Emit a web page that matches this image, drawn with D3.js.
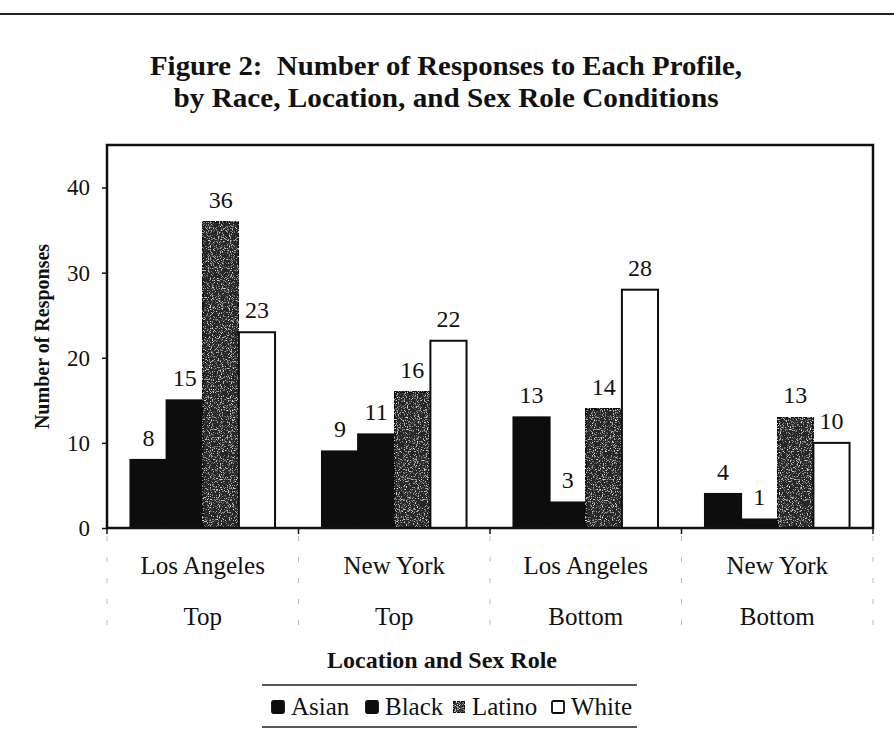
<!DOCTYPE html>
<meta charset="utf-8">
<style>
    body {
        margin: 0;
        padding: 0;
        background: #fff;
    }
    svg text {
        font-family: "Liberation Serif", "Times New Roman", serif;
        fill: #111;
    }
    .title {
        font-size: 28px;
        font-weight: bold;
        white-space: pre;
    }
    .axis text {
        font-size: 23px;
    }
    .axis line {
        stroke: #111;
        stroke-width: 1.5;
    }
    .axis .domain {
        display: none;
    }
    .vlabel {
        font-size: 24px;
    }
    .cat {
        font-size: 25px;
    }
    .axis-title {
        font-size: 24px;
        font-weight: bold;
    }
    .ytitle {
        font-size: 20px;
        font-weight: bold;
    }
    .legend text {
        font-size: 25px;
    }
</style>
<body>
<script src="https://cdnjs.cloudflare.com/ajax/libs/d3/7.8.5/d3.min.js"></script>
<script>
    // chart data
    var locations = ["Los Angeles", "New York", "Los Angeles", "New York"];
    var sexRoles = ["Top", "Top", "Bottom", "Bottom"];
    var races = ["Asian", "Black", "Latino", "White"];
    var asian = [8, 9, 13, 4];
    var black = [15, 11, 3, 1];
    var latino = [36, 16, 14, 13];
    var white = [23, 22, 28, 10];
    var yTicks = [0, 10, 20, 30, 40];

    var seriesValues = [asian, black, latino, white];
    var groups = locations.map(function(loc, i) {
        return {
            key: i,
            loc: loc,
            role: sexRoles[i],
            vals: races.map(function(r, j) { return {race: r, value: seriesValues[j][i]}; })
        };
    });

    var width = 894, height = 741;
    var margin = {top: 145, right: 21, bottom: 213, left: 107};
    var plotW = width - margin.left - margin.right,
        plotH = height - margin.top - margin.bottom;

    var svg = d3.select("body")
        .append("svg")
        .attr("width", width)
        .attr("height", height);

    // stipple for the Latino bars
    var defs = svg.append("defs");
    var f = defs.append("filter")
        .attr("id", "speckle")
        .attr("x", 0).attr("y", 0).attr("width", 1).attr("height", 1);
    f.append("feTurbulence")
        .attr("type", "fractalNoise")
        .attr("baseFrequency", 0.9)
        .attr("numOctaves", 2)
        .attr("seed", 4)
        .attr("result", "noise");
    f.append("feColorMatrix")
        .attr("in", "noise")
        .attr("type", "matrix")
        .attr("values", "0 0 0 0 0.8  0 0 0 0 0.8  0 0 0 0 0.8  4 0 0 0 -2.2")
        .attr("result", "dots");
    f.append("feComposite")
        .attr("in", "dots").attr("in2", "SourceAlpha")
        .attr("operator", "in").attr("result", "sp");
    var merge = f.append("feMerge");
    merge.append("feMergeNode").attr("in", "SourceGraphic");
    merge.append("feMergeNode").attr("in", "sp");

    var fills = {Asian: "#0d0d0d", Black: "#0d0d0d", Latino: "#262626", White: "#fff"};

    // top rule
    svg.append("line")
        .attr("x1", 0).attr("x2", width)
        .attr("y1", 14).attr("y2", 14)
        .attr("stroke", "#222").attr("stroke-width", 2);

    svg.append("text")
        .attr("class", "title")
        .attr("x", 446).attr("y", 75)
        .attr("text-anchor", "middle")
        .attr("textLength", 592)
        .attr("lengthAdjust", "spacingAndGlyphs")
        .text("Figure 2:  Number of Responses to Each Profile,");
    svg.append("text")
        .attr("class", "title")
        .attr("x", 446).attr("y", 107)
        .attr("text-anchor", "middle")
        .attr("textLength", 545)
        .attr("lengthAdjust", "spacingAndGlyphs")
        .text("by Race, Location, and Sex Role Conditions");

    var g = svg.append("g")
        .attr("transform", "translate(" + margin.left + "," + margin.top + ")");

    var x0 = d3.scaleBand()
        .domain(groups.map(function(d) { return d.key; }))
        .range([0, plotW])
        .paddingInner(0.245)
        .paddingOuter(0.1225);

    var x1 = d3.scaleBand()
        .domain(races)
        .range([0, x0.bandwidth()]);

    var y = d3.scaleLinear()
        .domain([0, 45])
        .range([plotH, 0]);

    g.append("g")
        .attr("class", "axis")
        .call(d3.axisLeft(y).tickValues(yTicks).tickSize(5).tickPadding(12));

    // category separators below the axis
    var bounds = d3.range(0, groups.length + 1).map(function(i) { return i * x0.step(); });
    g.selectAll(".sep")
        .data(bounds)
        .enter().append("line")
        .attr("class", "sep")
        .attr("x1", function(d) { return d; })
        .attr("x2", function(d) { return d; })
        .attr("y1", plotH + 8)
        .attr("y2", plotH + 110)
        .attr("stroke", "#bbb")
        .attr("stroke-width", 1)
        .attr("stroke-dasharray", "5,16");
    g.selectAll(".xtick")
        .data(bounds)
        .enter().append("line")
        .attr("x1", function(d) { return d; })
        .attr("x2", function(d) { return d; })
        .attr("y1", plotH)
        .attr("y2", plotH + 6)
        .attr("stroke", "#111")
        .attr("stroke-width", 1.5);

    var grp = g.selectAll(".grp")
        .data(groups)
        .enter().append("g")
        .attr("class", "grp")
        .attr("transform", function(d) { return "translate(" + x0(d.key) + ",0)"; });

    grp.selectAll("rect")
        .data(function(d) { return d.vals; })
        .enter().append("rect")
        .attr("x", function(d) { return x1(d.race); })
        .attr("y", function(d) { return y(d.value); })
        .attr("width", x1.bandwidth())
        .attr("height", function(d) { return plotH - y(d.value); })
        .attr("fill", function(d) { return fills[d.race]; })
        .attr("stroke", "#0d0d0d")
        .attr("stroke-width", 2)
        .attr("filter", function(d) { return d.race === "Latino" ? "url(#speckle)" : null; });

    grp.selectAll(".vlabel")
        .data(function(d) { return d.vals; })
        .enter().append("text")
        .attr("class", "vlabel")
        .attr("x", function(d) { return x1(d.race) + x1.bandwidth() / 2; })
        .attr("y", function(d) { return y(d.value) - 14; })
        .attr("text-anchor", "middle")
        .text(function(d) { return d.value; });

    // plot frame
    g.append("rect")
        .attr("width", plotW).attr("height", plotH)
        .attr("fill", "none")
        .attr("stroke", "#111")
        .attr("stroke-width", 2.5);

    g.selectAll(".cat1")
        .data(groups)
        .enter().append("text")
        .attr("class", "cat")
        .attr("x", function(d) { return x0(d.key) + x0.bandwidth() / 2; })
        .attr("y", plotH + 46)
        .attr("text-anchor", "middle")
        .text(function(d) { return d.loc; });
    g.selectAll(".cat2")
        .data(groups)
        .enter().append("text")
        .attr("class", "cat")
        .attr("x", function(d) { return x0(d.key) + x0.bandwidth() / 2; })
        .attr("y", plotH + 97)
        .attr("text-anchor", "middle")
        .text(function(d) { return d.role; });

    svg.append("text")
        .attr("class", "axis-title")
        .attr("x", 442).attr("y", 668)
        .attr("text-anchor", "middle")
        .text("Location and Sex Role");

    svg.append("text")
        .attr("class", "ytitle")
        .attr("transform", "translate(49," + (margin.top + plotH / 2) + ") rotate(-90)")
        .attr("text-anchor", "middle")
        .text("Number of Responses");

    // legend
    var leg = svg.append("g").attr("class", "legend");
    leg.append("line").attr("x1", 262).attr("x2", 637).attr("y1", 685).attr("y2", 685)
        .attr("stroke", "#222").attr("stroke-width", 1.5);
    leg.append("line").attr("x1", 262).attr("x2", 637).attr("y1", 727).attr("y2", 727)
        .attr("stroke", "#222").attr("stroke-width", 1.5);
    var legX = [272, 366, 453, 552];
    var item = leg.selectAll(".item")
        .data(races)
        .enter().append("g")
        .attr("transform", function(d, i) { return "translate(" + legX[i] + ",701)"; });
    item.append("rect")
        .attr("width", 12).attr("height", 12)
        .attr("rx", 1.5)
        .attr("fill", function(d) { return d === "Latino" ? "#333" : fills[d]; })
        .attr("stroke", "#0d0d0d")
        .attr("stroke-width", 1.8)
        .attr("filter", function(d) { return d === "Latino" ? "url(#speckle)" : null; });
    item.append("text")
        .attr("x", 19).attr("y", 14)
        .text(function(d) { return d; });
</script>
</body>
</html>
